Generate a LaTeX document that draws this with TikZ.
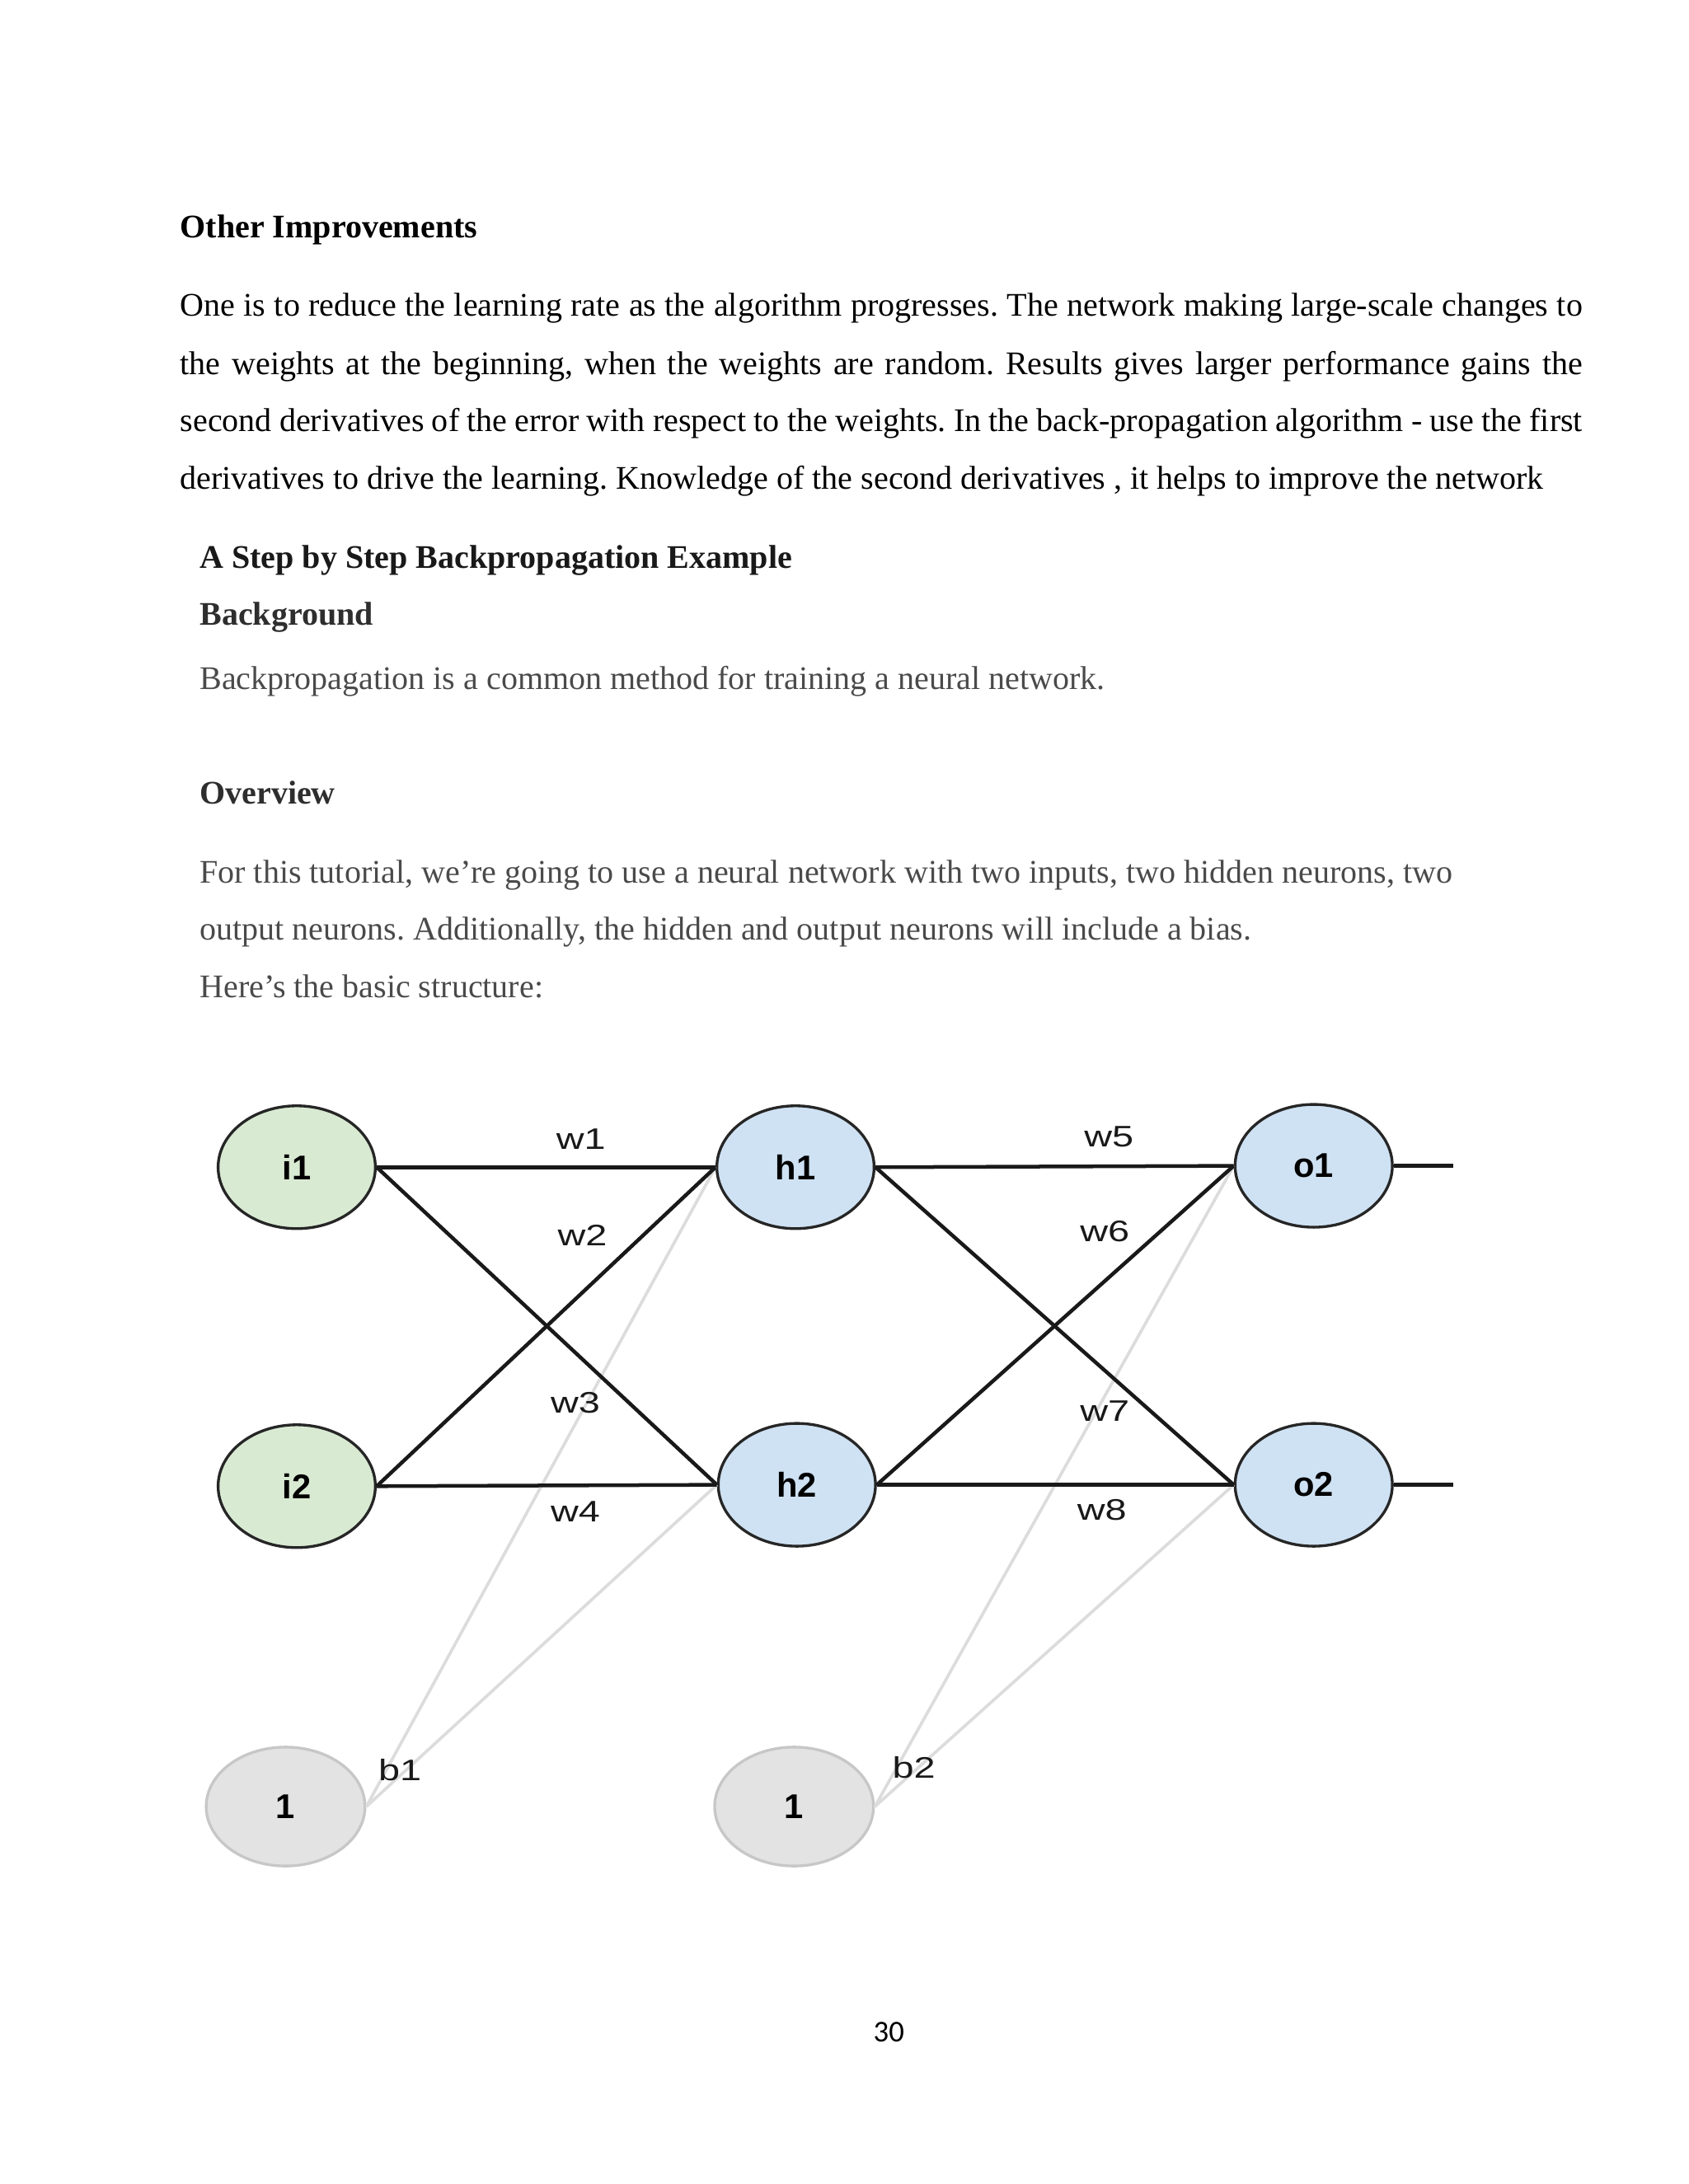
\documentclass[tikz,border=0pt]{standalone}
\usepackage{fontspec}
\usepackage{graphicx}
\setmainfont{Liberation Serif}
\setsansfont{Liberation Sans}
\newfontfamily\pagenumfont{Carlito}
\usetikzlibrary{shapes.geometric}
\frenchspacing

\definecolor{inputgreen}{HTML}{D9EAD3}
\definecolor{neuronblue}{HTML}{CFE2F3}
\definecolor{biasfill}{HTML}{E3E3E3}
\definecolor{biasline}{HTML}{DCDCDC}
\definecolor{bodygray}{HTML}{4A4A4A}
\definecolor{headgray}{HTML}{2E2E2E}

\newcommand{\stretchlab}[1]{\scalebox{1.3}[1]{#1}}

\tikzset{
  txt/.style={anchor=base west, inner sep=0pt, font=\fontsize{12}{14}\selectfont},
  txtbold/.style={txt, font=\bfseries\fontsize{12}{14}\selectfont},
  neuron/.style={ellipse, draw=black!85, line width=1pt, inner sep=0pt,
    minimum width=2.01cm, minimum height=1.57cm,
    font=\sffamily\bfseries\fontsize{12.5}{14}\selectfont},
  biasnode/.style={neuron, draw=black!22, fill=biasfill, minimum width=2.03cm, minimum height=1.52cm},
  conn/.style={line width=1.35pt, black!90},
  biasconn/.style={line width=1.1pt, biasline},
  wlab/.style={inner sep=0pt, font=\sffamily\fontsize{10.8}{12}\selectfont, text=black!90}
}

\begin{document}
\begin{tikzpicture}[x=0.017813cm, y=-0.017813cm]
\useasboundingbox (0,0) rectangle (1212,1568);

% Texte
\node[txtbold] (title) at (129,171) {Other Improvements};
\node[txt] (par1) at (129,227) {\makebox[510pt][s]{One is to reduce the learning rate as the algorithm progresses. The network making large-scale changes to}};
\node[txt] (par2) at (129,269) {\makebox[510pt][s]{the weights at the beginning, when the weights are random. Results gives larger performance gains the}};
\node[txt] (par3) at (129,310) {\makebox[510pt][s]{second derivatives of the error with respect to the weights. In the back-propagation algorithm - use the first}};
\node[txt] (par4) at (129,351) {derivatives to drive the learning. Knowledge of the second derivatives , it helps to improve the network};

\node[txtbold, text=black!90] (step) at (143,408) {A Step by Step Backpropagation Example};
\node[txtbold, text=headgray] (backg) at (143,449) {Background};
\node[txt, text=bodygray] (backtxt) at (143,495) {Backpropagation is a common method for training a neural network.};
\node[txtbold, text=headgray] (overv) at (143,577) {Overview};
\node[txt, text=bodygray] (ov1) at (143,634) {For this tutorial, we’re going to use a neural network with two inputs, two hidden neurons, two};
\node[txt, text=bodygray] (ov2) at (143,675) {output neurons. Additionally, the hidden and output neurons will include a bias.};
\node[txt, text=bodygray] (ov3) at (143,716) {Here’s the basic structure:};

% Neurones
\node[neuron, fill=inputgreen] (i1) at (213,838) {i1};
\node[neuron, fill=inputgreen] (i2) at (213,1067) {i2};
\node[neuron, fill=neuronblue] (h1) at (571,838) {h1};
\node[neuron, fill=neuronblue] (h2) at (572,1066) {h2};
\node[neuron, fill=neuronblue] (o1) at (943,837) {o1};
\node[neuron, fill=neuronblue] (o2) at (943,1066) {o2};
\node[biasnode] (b1) at (205,1297) {1};
\node[biasnode] (b2) at (570,1297) {1};
\coordinate (out1) at (1043,837);
\coordinate (out2) at (1043,1066);

% Biais
\foreach \b/\n in {b1/h1,b1/h2,b2/o1,b2/o2}
  \draw[biasconn] (\b.east) -- (\n.west);

% Poids
\foreach \a/\n in {i1/h1,i1/h2,i2/h1,i2/h2,h1/o1,h1/o2,h2/o1,h2/o2}
  \draw[conn] (\a.east) -- (\n.west);
\draw[conn] (o1.east) -- (out1);
\draw[conn] (o2.east) -- (out2);

% Etiquettes
\node[wlab] (lw1) at (417,818) {\stretchlab{w1}};
\node[wlab] (lw2) at (418,887) {\stretchlab{w2}};
\node[wlab] (lw3) at (413,1007) {\stretchlab{w3}};
\node[wlab] (lw4) at (413,1085) {\stretchlab{w4}};
\node[wlab] (lw5) at (796,816) {\stretchlab{w5}};
\node[wlab] (lw6) at (793,884) {\stretchlab{w6}};
\node[wlab] (lw7) at (793,1013) {\stretchlab{w7}};
\node[wlab] (lw8) at (791,1084) {\stretchlab{w8}};
\node[wlab] (lb1) at (287,1271) {\stretchlab{b1}};
\node[wlab] (lb2) at (656,1269) {\stretchlab{b2}};

% Page
\node[inner sep=0pt, font=\pagenumfont\fontsize{11}{13}\selectfont] (pagenum) at (638,1459) {30};
\end{tikzpicture}
\end{document}
